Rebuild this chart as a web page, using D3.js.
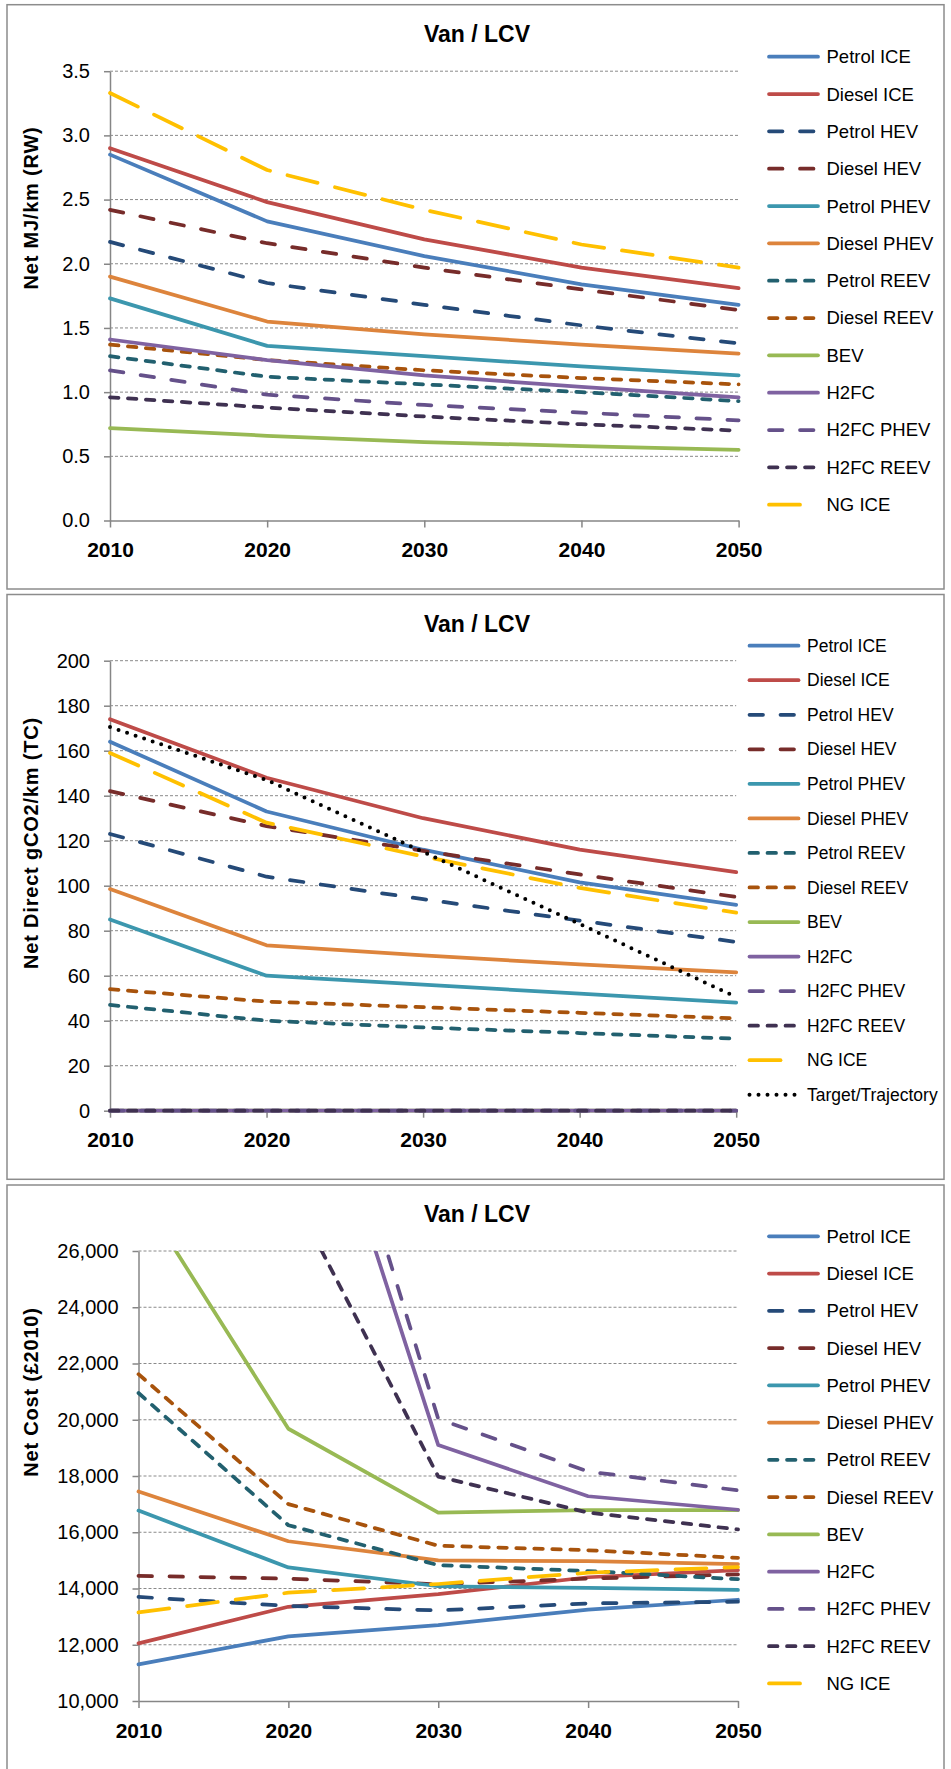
<!DOCTYPE html>
<html>
<head>
<meta charset="utf-8">
<script src="https://cdn.jsdelivr.net/npm/d3@7"></script>
<style>
  body { margin: 0; background: #fff; }
  svg text { font-family: "Liberation Sans", Arial, sans-serif; fill: #000; }
</style>
</head>
<body>
<svg id="chart" width="951" height="1769"></svg>
<script>
// ---- data ----
const years = [2010, 2020, 2030, 2040, 2050];

const seriesNames = [
  "Petrol ICE", "Diesel ICE", "Petrol HEV", "Diesel HEV", "Petrol PHEV", "Diesel PHEV",
  "Petrol REEV", "Diesel REEV", "BEV", "H2FC", "H2FC PHEV", "H2FC REEV", "NG ICE"
];

// Net MJ/km (RW), same order as seriesNames
const energyValues = [
  [2.85, 2.33, 2.06, 1.84, 1.68],
  [2.90, 2.48, 2.19, 1.97, 1.81],
  [2.17, 1.85, 1.68, 1.52, 1.38],
  [2.42, 2.16, 1.97, 1.80, 1.64],
  [1.73, 1.36, 1.28, 1.20, 1.13],
  [1.90, 1.55, 1.45, 1.37, 1.30],
  [1.28, 1.12, 1.06, 1.00, 0.93],
  [1.37, 1.25, 1.17, 1.11, 1.06],
  [0.72, 0.66, 0.61, 0.58, 0.55],
  [1.41, 1.25, 1.13, 1.04, 0.96],
  [1.17, 0.98, 0.90, 0.84, 0.78],
  [0.96, 0.88, 0.81, 0.75, 0.70],
  [3.33, 2.73, 2.42, 2.15, 1.97]
];

// Net Direct gCO2/km (TC)
const co2Values = [
  [164, 133, 116, 101.5, 91.5],
  [174, 148, 130, 116, 106],
  [123, 104, 94, 84.5, 75],
  [142, 126.5, 115.5, 105, 95],
  [85, 60, 56, 52, 48],
  [98.5, 73.5, 69, 65, 61.5],
  [47, 40, 37, 34.5, 32],
  [54, 48.5, 46, 43.5, 41],
  [0, 0, 0, 0, 0],
  [0, 0, 0, 0, 0],
  [0, 0, 0, 0, 0],
  [0, 0, 0, 0, 0],
  [159, 128, 113, 99, 88]
];
const targetName = "Target/Trajectory";
const targetValues = [170.5, 147, 115, 83, 50.5];

// Net Cost (£2010); null = above the chart, not readable
const costValues = [
  [11300, 12300, 12700, 13250, 13600],
  [12050, 13350, 13800, 14400, 14650],
  [13700, 13380, 13220, 13470, 13530],
  [14450, 14350, 14150, 14350, 14500],
  [16770, 14750, 14080, 14020, 13950],
  [17450, 15680, 15000, 14970, 14870],
  [20950, 16250, 14830, 14620, 14330],
  [21620, 17000, 15520, 15360, 15090],
  [28100, 19680, 16700, 16790, 16790],
  [null, 35600, 19100, 17280, 16800],
  [null, 37400, 20030, 18160, 17490],
  [null, 28300, 17980, 16700, 16100],
  [13150, 13850, 14160, 14560, 14760]
];

const energyTicks = [0, 0.5, 1, 1.5, 2, 2.5, 3, 3.5];
const co2Ticks = [0, 20, 40, 60, 80, 100, 120, 140, 160, 180, 200];
const costTicks = [10000, 12000, 14000, 16000, 18000, 20000, 22000, 24000, 26000];

// ---- styles ----
const seriesColors = [
  "#4a7ebb", "#be4b48", "#254a78", "#772c2a", "#3c97ae", "#dd843c",
  "#22606f", "#a8530c", "#98b954", "#7f62a1", "#65518a", "#3f3151", "#ffc000"
];
const DASH = "13.5,17.5", SYSDASH = "8.5,9.5", LONGDASH = "31,18";
const seriesDash = [
  null, null, DASH, DASH, null, null,
  SYSDASH, SYSDASH, null, null, DASH, SYSDASH, LONGDASH
];
const lineWidth = 3.75;

const svg = d3.select("#chart");
svg.append("rect").attr("width", 951).attr("height", 1769).attr("fill", "#fff");

function drawPanel(p) {
  const g = svg.append("g");

  g.append("rect")
    .attr("x", 7).attr("y", p.boxTop)
    .attr("width", 937).attr("height", p.boxBottom - p.boxTop)
    .attr("fill", "#fff").attr("stroke", "#8c8c8c").attr("stroke-width", 1.5);

  const x = d3.scalePoint().domain(years).range([p.left, p.right]);
  const y = d3.scaleLinear().domain(p.domain).range([p.bottom, p.top]);

  // gridlines
  g.selectAll("line.grid")
    .data(p.ticks.slice(1))
    .join("line")
    .attr("class", "grid")
    .attr("x1", p.left).attr("x2", p.right)
    .attr("y1", d => y(d)).attr("y2", d => y(d))
    .attr("stroke", "#8a8a8a").attr("stroke-width", 1)
    .attr("stroke-dasharray", "3,2");

  // y axis
  const ya = g.append("g")
    .attr("transform", `translate(${p.left},0)`)
    .call(d3.axisLeft(y).tickValues(p.ticks).tickFormat(p.format)
      .tickSize(6).tickSizeOuter(0).tickPadding(14));
  ya.select(".domain").attr("stroke", "#868686").attr("stroke-width", 1.5);
  ya.selectAll(".tick line").attr("stroke", "#868686").attr("stroke-width", 1.5);
  ya.selectAll(".tick text").attr("font-size", 20).attr("fill", "#000")
    .style("font-family", '"Liberation Sans", Arial, sans-serif');

  // x axis
  const xa = g.append("g")
    .attr("transform", `translate(0,${p.bottom})`)
    .call(d3.axisBottom(x).tickSize(7).tickSizeOuter(0));
  xa.select(".domain").attr("stroke", "#868686").attr("stroke-width", 1.5);
  xa.selectAll(".tick line").attr("stroke", "#868686").attr("stroke-width", 1.5);
  xa.selectAll(".tick text")
    .attr("y", 36.5).attr("dy", 0)
    .attr("font-size", 21).attr("font-weight", "bold").attr("fill", "#000")
    .style("font-family", '"Liberation Sans", Arial, sans-serif');

  // clip to the plot area
  const clipId = "clip" + p.id;
  g.append("clipPath").attr("id", clipId)
    .append("rect")
    .attr("x", p.left - 10).attr("y", p.top)
    .attr("width", p.right - p.left + 20).attr("height", p.bottom - p.top + 10);

  const line = d3.line()
    .defined(d => d != null)
    .x((d, i) => x(years[i]))
    .y(d => y(d));

  const series = p.values.map((vals, i) => ({
    name: seriesNames[i], values: vals,
    color: seriesColors[i], dash: seriesDash[i], width: lineWidth
  }));
  if (p.extra) series.push(p.extra);

  g.append("g").attr("clip-path", `url(#${clipId})`)
    .selectAll("path")
    .data(series)
    .join("path")
    .attr("d", d => line(d.values))
    .attr("fill", "none")
    .attr("stroke", d => d.color)
    .attr("stroke-width", d => d.width)
    .attr("stroke-dasharray", d => d.dash)
    .attr("stroke-linecap", "round")
    .attr("stroke-linejoin", "round");

  // title
  g.append("text")
    .attr("x", 477).attr("y", p.boxTop + 37.3)
    .attr("text-anchor", "middle")
    .attr("font-size", 23).attr("font-weight", "bold")
    .text("Van / LCV");

  // y axis title
  g.append("text")
    .attr("transform", `translate(38,${p.yTitleY}) rotate(-90)`)
    .attr("text-anchor", "middle")
    .attr("font-size", 20).attr("font-weight", "bold")
    .attr("letter-spacing", 0.8)
    .text(p.yTitle);

  // legend
  const lg = g.selectAll("g.legend")
    .data(series)
    .join("g")
    .attr("class", "legend")
    .attr("transform", (d, i) => `translate(0,${p.legendY0 + i * p.legendStep})`);
  lg.append("line")
    .attr("x1", p.legendX1 + 2).attr("x2", p.legendX2 - 2)
    .attr("stroke", d => d.color)
    .attr("stroke-width", d => d.width)
    .attr("stroke-dasharray", d => d.dash)
    .attr("stroke-linecap", "round");
  lg.append("text")
    .attr("x", p.legendTextX).attr("dy", "0.35em")
    .attr("font-size", p.legendFont)
    .text(d => d.name);
}

drawPanel({
  id: 1, boxTop: 4.7, boxBottom: 589,
  left: 110, right: 738.6, top: 71.2, bottom: 520.5,
  domain: [0, 3.5], ticks: energyTicks, format: d3.format(".1f"),
  values: energyValues,
  yTitle: "Net MJ/km (RW)", yTitleY: 208,
  legendX1: 767, legendX2: 820, legendTextX: 826.5,
  legendY0: 56.7, legendStep: 37.33, legendFont: 18.5
});

drawPanel({
  id: 2, boxTop: 594.5, boxBottom: 1179.3,
  left: 110, right: 736.2, top: 660.7, bottom: 1110.7,
  domain: [0, 200], ticks: co2Ticks, format: d3.format("d"),
  values: co2Values,
  extra: { name: targetName, values: targetValues, color: "#000", dash: "0,9", width: 4 },
  yTitle: "Net Direct gCO2/km (TC)", yTitleY: 843,
  legendX1: 747.5, legendX2: 800.5, legendTextX: 807,
  legendY0: 645.7, legendStep: 34.54, legendFont: 17.5
});

drawPanel({
  id: 3, boxTop: 1185, boxBottom: 1785,
  left: 138.5, right: 738, top: 1251, bottom: 1701,
  domain: [10000, 26000], ticks: costTicks, format: d3.format(","),
  values: costValues,
  yTitle: "Net Cost (£2010)", yTitleY: 1392,
  legendX1: 767, legendX2: 820, legendTextX: 826.5,
  legendY0: 1236.3, legendStep: 37.26, legendFont: 18.5
});
</script>
</body>
</html>
